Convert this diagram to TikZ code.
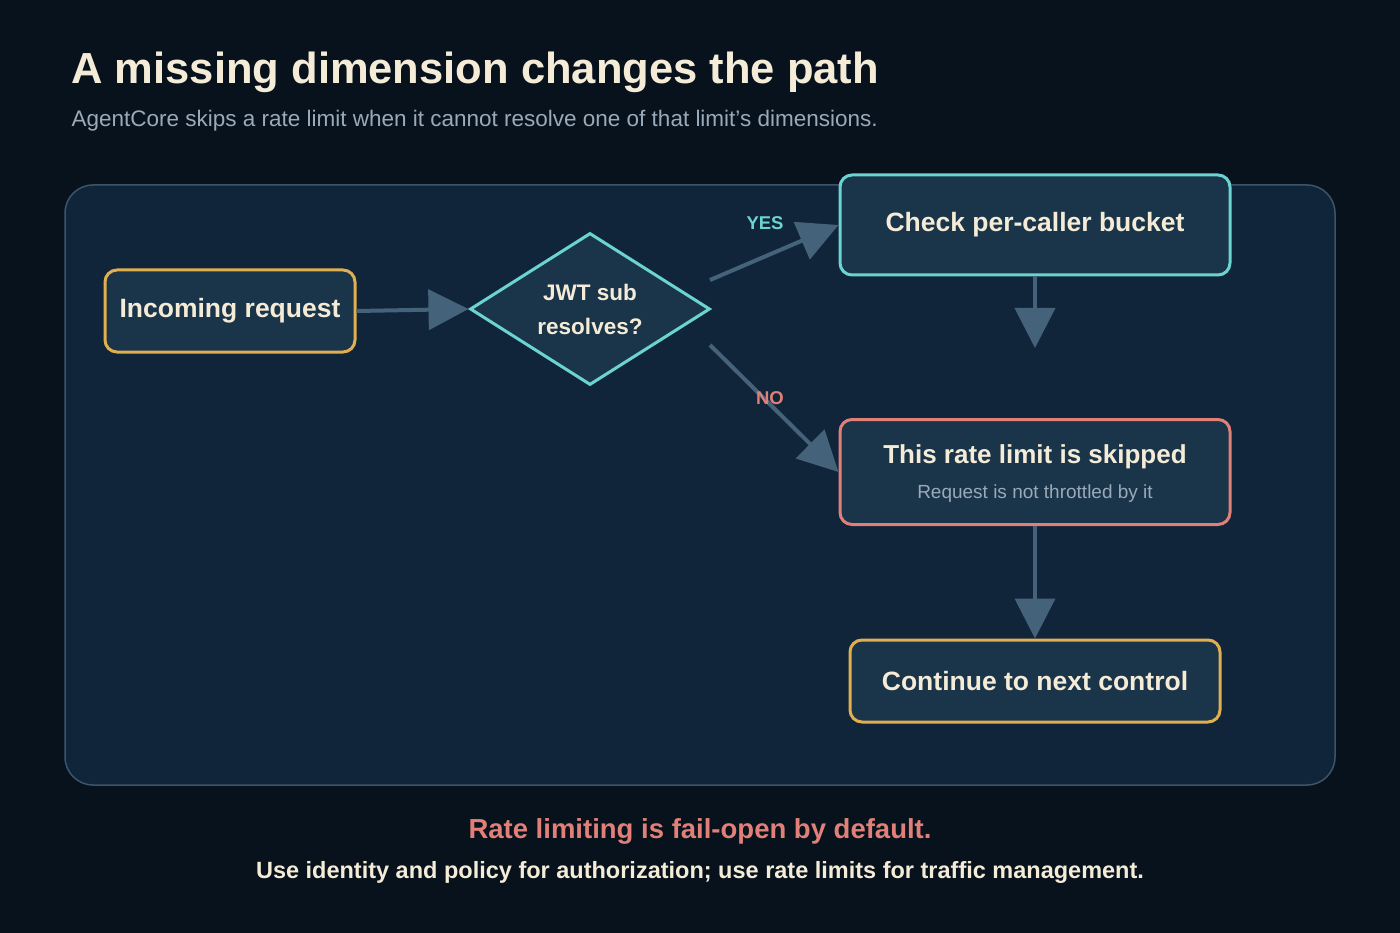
\documentclass[tikz,border=0pt]{standalone}
\usepackage{fontspec}
\setmainfont{Liberation Sans}
\usetikzlibrary{arrows.meta,shapes.geometric}
\definecolor{bg}{HTML}{08121D}
\definecolor{panel}{HTML}{11253A}
\definecolor{panelline}{HTML}{3A556B}
\definecolor{nodefill}{HTML}{1A344A}
\definecolor{cream}{HTML}{F5ECD8}
\definecolor{subgray}{HTML}{9AAAB8}
\definecolor{orange}{HTML}{E0B050}
\definecolor{teal}{HTML}{6CD4D0}
\definecolor{salmon}{HTML}{E08078}
\definecolor{arrowc}{HTML}{44627A}
\begin{document}
\begin{tikzpicture}[x=1pt,y=-1pt,
  box/.style={draw,line width=3pt,rounded corners=12pt,fill=nodefill,text=cream,font=\fontsize{26.5}{30}\selectfont\bfseries,align=center},
  arr/.style={draw=arrowc,line width=4pt,-{Triangle[length=40pt,width=40pt]}},
  lab/.style={font=\fontsize{18.5}{20}\selectfont\bfseries}]
\fill[bg] (0,0) rectangle (1400,933);
\useasboundingbox (0,0) rectangle (1400,933);
\node[anchor=west,text=cream,font=\fontsize{43.5}{48}\selectfont\bfseries] (title) at (68,72) {A missing dimension changes the path};
\node[anchor=west,text=subgray,font=\fontsize{22.5}{25}\selectfont] (sub) at (68,121) {AgentCore skips a rate limit when it cannot resolve one of that limit’s dimensions.};
\draw[panelline,line width=1.5pt,fill=panel,rounded corners=28pt] (65,185) rectangle (1335,785);
\node[box,draw=orange,minimum width=250pt,minimum height=82pt] (inc) at (230,311) {Incoming request};
\node[diamond,draw=teal,line width=3pt,fill=nodefill,text=cream,font=\fontsize{22.5}{34}\selectfont\bfseries,align=center,minimum width=240pt,minimum height=152pt,inner sep=0pt,aspect=1.58] (dec) at (590,309) {JWT sub\\resolves?};
\node[box,draw=teal,minimum width=390pt,minimum height=100pt] (chk) at (1035,225) {Check per-caller bucket};
\node[box,draw=salmon,minimum width=390pt,minimum height=105pt] (skip) at (1035,472) {};
\node[text=cream,font=\fontsize{26}{30}\selectfont\bfseries] (skipt) at (1035,457) {This rate limit is skipped};
\node[text=subgray,font=\fontsize{19}{22}\selectfont] (skips) at (1035,494) {Request is not throttled by it};
\node[box,draw=orange,minimum width=370pt,minimum height=82pt] (cont) at (1035,681) {Continue to next control};
\coordinate (chkend) at (1035,348);
\coordinate (ys) at (710,280);
\coordinate (ns) at (710,345);
\draw[arr] (inc.east) -- (dec.west);
\draw[arr] (ys) -- (chk.west);
\draw[arr] (ns) -- (skip.west);
\draw[arr] (chk.south) -- (chkend);
\draw[arr] (skip.south) -- (cont.north);
\node[lab,text=teal] (yes) at (765,223) {YES};
\node[lab,text=salmon] (no) at (770,398) {NO};
\node[text=salmon,font=\fontsize{27.5}{30}\selectfont\bfseries] (f1) at (700,831) {Rate limiting is fail-open by default.};
\node[text=cream,font=\fontsize{23.5}{26}\selectfont\bfseries] (f2) at (700,872) {Use identity and policy for authorization; use rate limits for traffic management.};
\end{tikzpicture}
\end{document}
